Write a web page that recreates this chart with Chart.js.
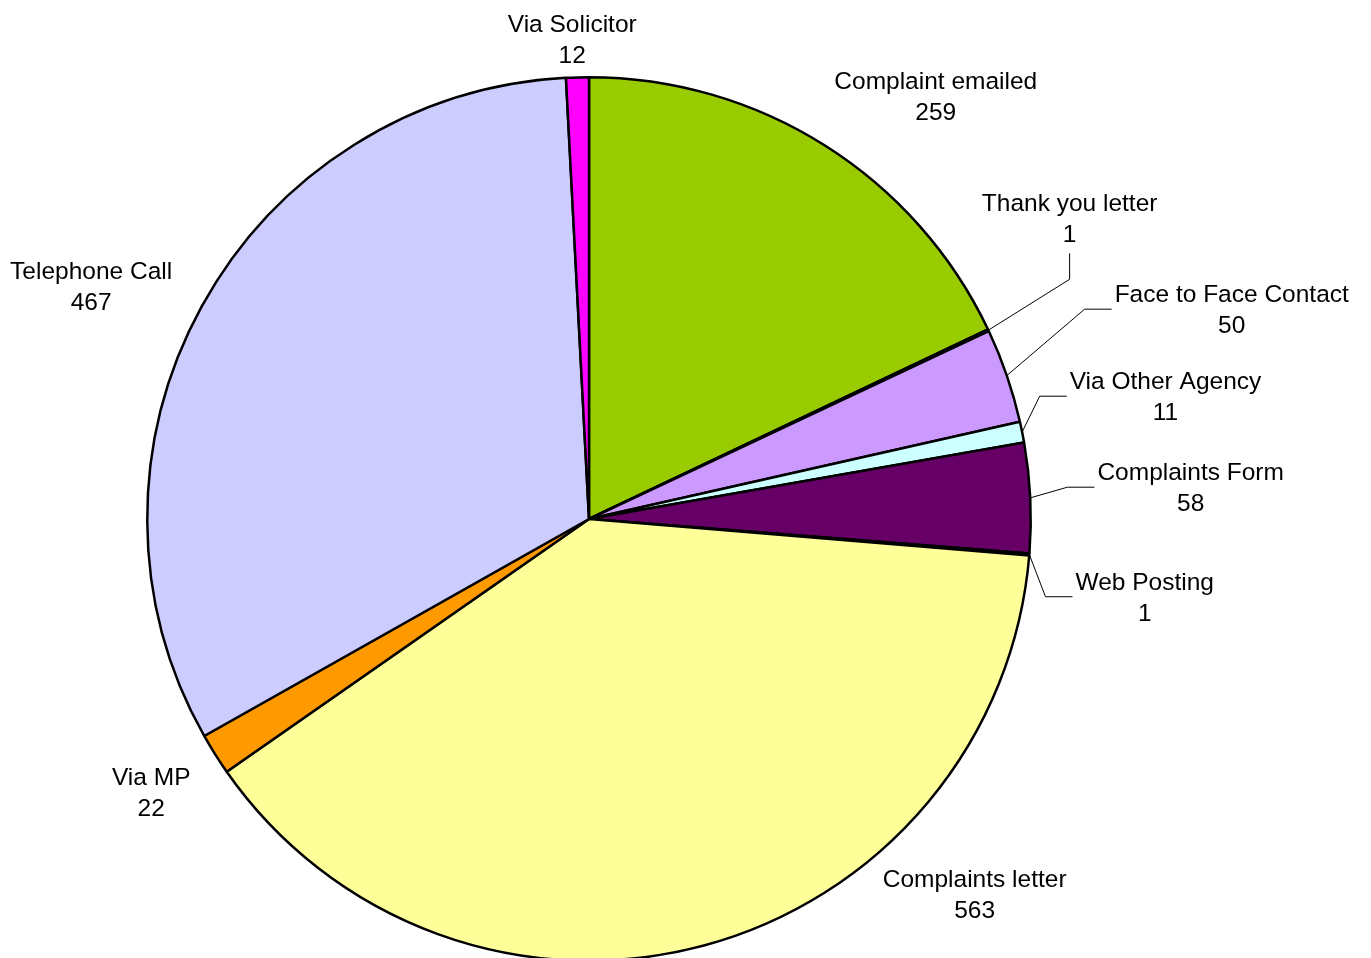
<!DOCTYPE html>
<html>
<head>
<meta charset="utf-8">
<script src="https://cdn.jsdelivr.net/npm/chart.js@4"></script>
<style>
  html, body { margin: 0; padding: 0; background: #ffffff; overflow: hidden; }
  #wrap { width: 1371px; height: 958px; position: relative; overflow: hidden; }
</style>
</head>
<body>
<div id="wrap"><canvas id="c" width="1371" height="962"></canvas></div>
<script>
// ---- Data ----
const categories = [
  "Complaint emailed", "Thank you letter", "Face to Face Contact", "Via Other Agency",
  "Complaints Form", "Web Posting", "Complaints letter", "Via MP", "Telephone Call", "Via Solicitor"
];
const counts = [259, 1, 50, 11, 58, 1, 563, 22, 467, 12];
const sliceColors = [
  "#99CC00", "#3366FF", "#CC99FF", "#CCFFFF",
  "#660066", "#FF8080", "#FFFF99", "#FF9900", "#CCCCFF", "#FF00FF"
];

// ---- Label layout (block centre relative to pie centre, in units of radius; leader style) ----
const labelLayout = [
  { dx: 0.785, dy: -0.959, leader: null },
  { dx: 1.088, dy: -0.683, leader: "v" },
  { dx: 1.455, dy: -0.475, leader: "h" },
  { dx: 1.305, dy: -0.278, leader: "h" },
  { dx: 1.362, dy: -0.072, leader: "h" },
  { dx: 1.258, dy: 0.176, leader: "h" },
  { dx: 0.873, dy: 0.848, leader: null },
  { dx: -0.991, dy: 0.618, leader: null },
  { dx: -1.127, dy: -0.529, leader: null },
  { dx: -0.038, dy: -1.088, leader: null }
];

const FONT = '24.5px "Liberation Sans", Arial, sans-serif';
const LINE_H = 31;
const TEXT_SHIFT = 2;

const outsideLabels = {
  id: "outsideLabels",
  afterDatasetsDraw(chart) {
    const ctx = chart.ctx;
    const meta = chart.getDatasetMeta(0);
    ctx.save();
    ctx.font = FONT;
    ctx.fillStyle = "#000000";
    ctx.textAlign = "center";
    ctx.textBaseline = "middle";
    meta.data.forEach((arc, i) => {
      const lay = labelLayout[i];
      const R = arc.outerRadius;
      const cx = arc.x + lay.dx * R;
      const cy = arc.y + lay.dy * R;
      const l1 = categories[i];
      const l2 = String(counts[i]);
      ctx.fillText(l1, cx, cy - LINE_H / 2 + TEXT_SHIFT);
      ctx.fillText(l2, cx, cy + LINE_H / 2 + TEXT_SHIFT);
      if (lay.leader) {
        const mid = (arc.startAngle + arc.endAngle) / 2;
        const sx = arc.x + Math.cos(mid) * R;
        const sy = arc.y + Math.sin(mid) * R;
        let ex, ey, bx, by;
        if (lay.leader === "h") {
          const w = Math.max(ctx.measureText(l1).width, ctx.measureText(l2).width);
          ex = cx - w / 2 - 3; ey = cy;
          bx = ex - 27; by = ey;
        } else {
          ex = cx; ey = cy + 36;
          bx = cx; by = ey + 26;
        }
        ctx.beginPath();
        ctx.strokeStyle = "#000000";
        ctx.lineWidth = 1;
        ctx.moveTo(sx, sy);
        ctx.lineTo(bx, by);
        ctx.lineTo(ex, ey);
        ctx.stroke();
      }
    });
    ctx.restore();
  }
};

new Chart(document.getElementById("c"), {
  type: "pie",
  data: {
    labels: categories,
    datasets: [{
      data: counts,
      backgroundColor: sliceColors,
      borderColor: "#000000",
      borderWidth: 2.5,
      hoverOffset: 0
    }]
  },
  options: {
    responsive: false,
    animation: false,
    events: [],
    layout: { padding: { left: 146, top: 76, right: 339, bottom: 0 } },
    plugins: {
      legend: { display: false },
      tooltip: { enabled: false }
    }
  },
  plugins: [outsideLabels]
});
</script>
</body>
</html>
